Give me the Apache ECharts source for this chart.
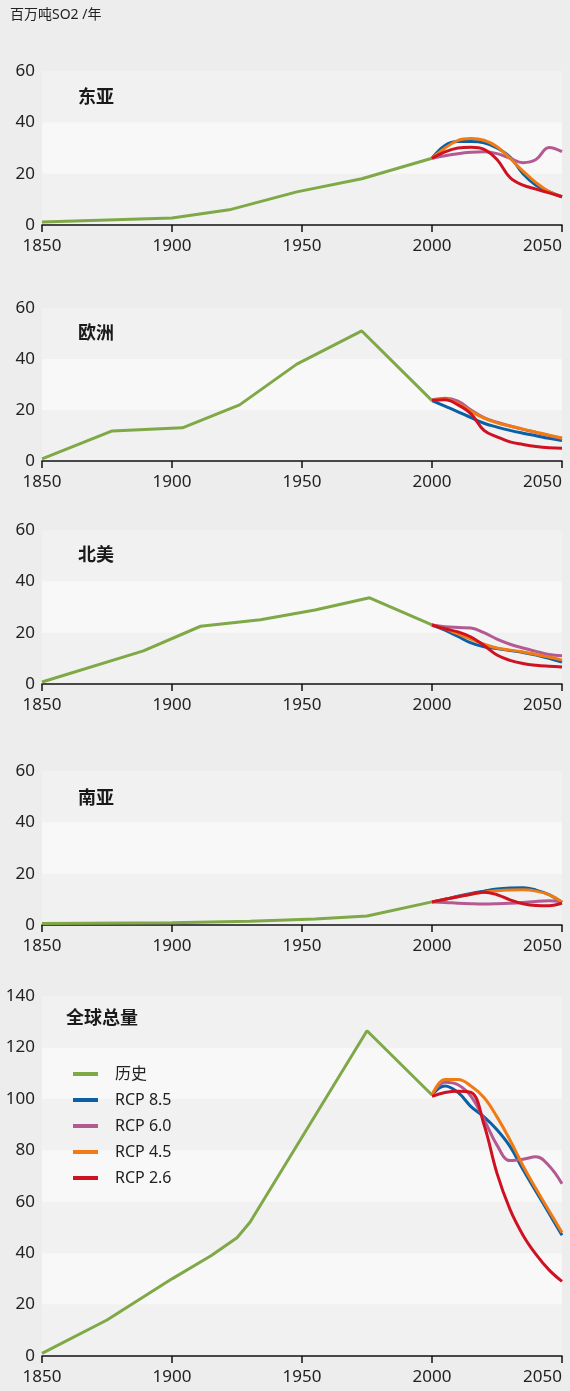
<!DOCTYPE html>
<html>
<head>
<meta charset="utf-8">
<script src="https://cdn.jsdelivr.net/npm/echarts@6/dist/echarts.min.js"></script>
<style>
  html, body { margin: 0; padding: 0; background: #ededed; }
  #chart { width: 570px; height: 1391px; }
</style>
</head>
<body>
<div id="chart"></div>
<script>
// 区域名称
const regions = ['东亚', '欧洲', '北美', '南亚', '全球总量']
const unitText = '百万吨SO2 /年'
const seriesNames = ['历史', 'RCP 8.5', 'RCP 6.0', 'RCP 4.5', 'RCP 2.6']
const colors = ['#7fa846', '#0b5fa5', '#b35a93', '#f07b12', '#cf1222']

// 横轴刻度
const xTicks = [1850, 1900, 1950, 2000, 2050]
const yMax = [60, 60, 60, 60, 140]

// 历史数据 [年份, 值]
const histEastAsia = [[1850, 1.2], [1900, 2.7], [1922, 5.9], [1948, 12.9], [1973, 18], [2000, 26]]
const histEurope = [[1850, 0.8], [1877, 11.8], [1904, 13], [1926, 22], [1948, 38], [1973, 51], [2000, 23.7]]
const histNAmerica = [[1850, 0.8], [1889, 12.9], [1911, 22.5], [1934, 25], [1955, 28.8], [1976, 33.6], [2000, 23]]
const histSAsia = [[1850, 0.6], [1900, 0.9], [1930, 1.5], [1955, 2.3], [1975, 3.5], [2000, 9]]
const histGlobal = [[1850, 1], [1875, 14], [1900, 30], [1915, 39], [1925, 46], [1930, 52], [1975, 126.5], [2000, 101.5]]

// 情景年份
const futureYears = [2000, 2005, 2010, 2015, 2020, 2025, 2030, 2035, 2040, 2045, 2050]

// 东亚
const eaRcp85 = [26, 31, 32.5, 32.5, 32, 30, 26.5, 20, 15.5, 13, 11]
const eaRcp60 = [26, 27, 27.8, 28.3, 28.5, 27.8, 26, 24.3, 25.5, 30.2, 28.6]
const eaRcp45 = [26, 30, 33, 33.7, 33, 30.5, 26, 21, 16.5, 13, 11]
const eaRcp26 = [26, 28.5, 30, 30.3, 29.5, 25.5, 18.5, 15.5, 14, 12.5, 11]
// 欧洲
const euRcp85 = [23.7, 21.5, 19.3, 17, 14.8, 13.3, 12, 10.9, 9.9, 8.9, 8]
const euRcp60 = [24, 24.6, 23.5, 20, 17, 15.2, 13.7, 12.4, 11.2, 10, 8.8]
const euRcp45 = [23.7, 24.2, 22.5, 19.5, 16.8, 15, 13.7, 12.5, 11.3, 10.1, 9]
const euRcp26 = [23.7, 24, 22, 18.5, 12, 9.5, 7.5, 6.5, 5.7, 5.2, 5]
// 北美
const naRcp85 = [23, 21, 18.5, 16, 14.5, 13.8, 13, 12.3, 11.3, 10, 8.5]
const naRcp60 = [23, 22.3, 22, 21.8, 20, 17.5, 15.5, 14, 12.7, 11.5, 11]
const naRcp45 = [23, 21.5, 19.5, 17.5, 15.5, 14, 13.2, 12.5, 11.5, 10.5, 9.3]
const naRcp26 = [23, 21.5, 20.3, 18.3, 15, 11.3, 9.2, 8, 7.3, 6.9, 6.6]
// 南亚
const saRcp85 = [9, 10, 11.2, 12.3, 13.2, 14, 14.4, 14.5, 13.6, 11.8, 8.8]
const saRcp60 = [9, 8.8, 8.5, 8.3, 8.2, 8.3, 8.5, 8.8, 9.2, 9.4, 9]
const saRcp45 = [9, 10, 11, 12, 12.8, 13.3, 13.6, 13.7, 13.2, 11.8, 9]
const saRcp26 = [9, 10, 11, 12, 12.8, 11.8, 9.8, 8.3, 7.6, 7.5, 8.5]
// 全球总量
const glRcp85 = [101.5, 105, 102.5, 97, 93, 88, 81.5, 72.5, 64, 55.5, 47]
const glRcp60 = [101.5, 106.5, 105.5, 101, 92, 82, 76, 76.5, 77.5, 74, 67]
const glRcp45 = [101.5, 107.5, 107.5, 105, 100.5, 93, 84, 74, 65, 56.5, 48]
const glRcp26 = [101, 102.5, 103, 102.5, 90, 71, 57, 47, 39.5, 33.5, 29]

const history = [histEastAsia, histEurope, histNAmerica, histSAsia, histGlobal]
const scenarios = [
  [eaRcp85, eaRcp60, eaRcp45, eaRcp26],
  [euRcp85, euRcp60, euRcp45, euRcp26],
  [naRcp85, naRcp60, naRcp45, naRcp26],
  [saRcp85, saRcp60, saRcp45, saRcp26],
  [glRcp85, glRcp60, glRcp45, glRcp26]
]

const gridBox = [
  { top: 71, height: 154 },
  { top: 308, height: 153 },
  { top: 530, height: 154 },
  { top: 771, height: 154 },
  { top: 996, height: 360 }
]
const titlePos = [
  { left: 78, top: 87 },
  { left: 78, top: 323 },
  { left: 78, top: 545 },
  { left: 78, top: 788 },
  { left: 66, top: 1008 }
]

const font = "'Noto Sans', 'Noto Sans CJK SC', sans-serif"
const chart = echarts.init(document.getElementById('chart'))

const grid = []
const xAxis = []
const yAxis = []
const title = [{
  text: unitText, left: 10, top: 8, padding: 0,
  textStyle: { fontSize: 14, fontWeight: 'normal', color: '#222', fontFamily: font }
}]
const series = []
// 绘制顺序: 历史在下
const drawOrder = [0, 4, 1, 2, 3]

regions.forEach((name, i) => {
  grid.push({ left: 42, right: 8, top: gridBox[i].top, height: gridBox[i].height })
  title.push({
    text: name, left: titlePos[i].left, top: titlePos[i].top, padding: 0,
    textStyle: { fontSize: 18, fontWeight: 'bold', color: '#1a1a1a', fontFamily: "'Noto Sans CJK SC', sans-serif" }
  })
  xAxis.push({
    type: 'value', gridIndex: i, min: xTicks[0], max: xTicks[xTicks.length - 1], interval: 50,
    axisLine: { show: true, onZero: false, lineStyle: { color: '#111', width: 1.5 } },
    axisTick: { show: true, length: 7, lineStyle: { color: '#111', width: 1.5 } },
    axisLabel: {
      fontSize: 17, color: '#222', margin: 13, fontFamily: font, alignMaxLabel: 'right',
      formatter: v => String(v)
    },
    splitLine: { show: false }
  })
  yAxis.push({
    type: 'value', gridIndex: i, min: 0, max: yMax[i], interval: 20,
    axisLine: { show: false }, axisTick: { show: false },
    axisLabel: { fontSize: 17, color: '#222', margin: 7, fontFamily: font },
    splitLine: { show: false },
    splitArea: { show: true, areaStyle: { color: ['#f1f1f1', '#f8f8f8'] } }
  })
  drawOrder.forEach(k => {
    const data = k === 0 ? history[i] : futureYears.map((y, j) => [y, scenarios[i][k - 1][j]])
    series.push({
      name: seriesNames[k],
      type: 'line',
      xAxisIndex: i,
      yAxisIndex: i,
      data,
      showSymbol: false,
      symbol: 'none',
      smooth: k === 0 ? false : 0.4,
      lineStyle: { color: colors[k], width: 3 },
      itemStyle: { color: colors[k] },
      z: 2 + k,
      animation: false
    })
  })
})

chart.setOption({
  backgroundColor: '#ededed',
  animation: false,
  title,
  legend: {
    data: seriesNames,
    orient: 'vertical',
    left: 73,
    top: 1064,
    padding: 0,
    icon: 'rect',
    itemWidth: 25,
    itemHeight: 4,
    itemGap: 6,
    textStyle: { fontSize: 16, color: '#222', fontFamily: font, lineHeight: 20, padding: [0, 0, 0, 12] }
  },
  grid,
  xAxis,
  yAxis,
  series
})
</script>
</body>
</html>
